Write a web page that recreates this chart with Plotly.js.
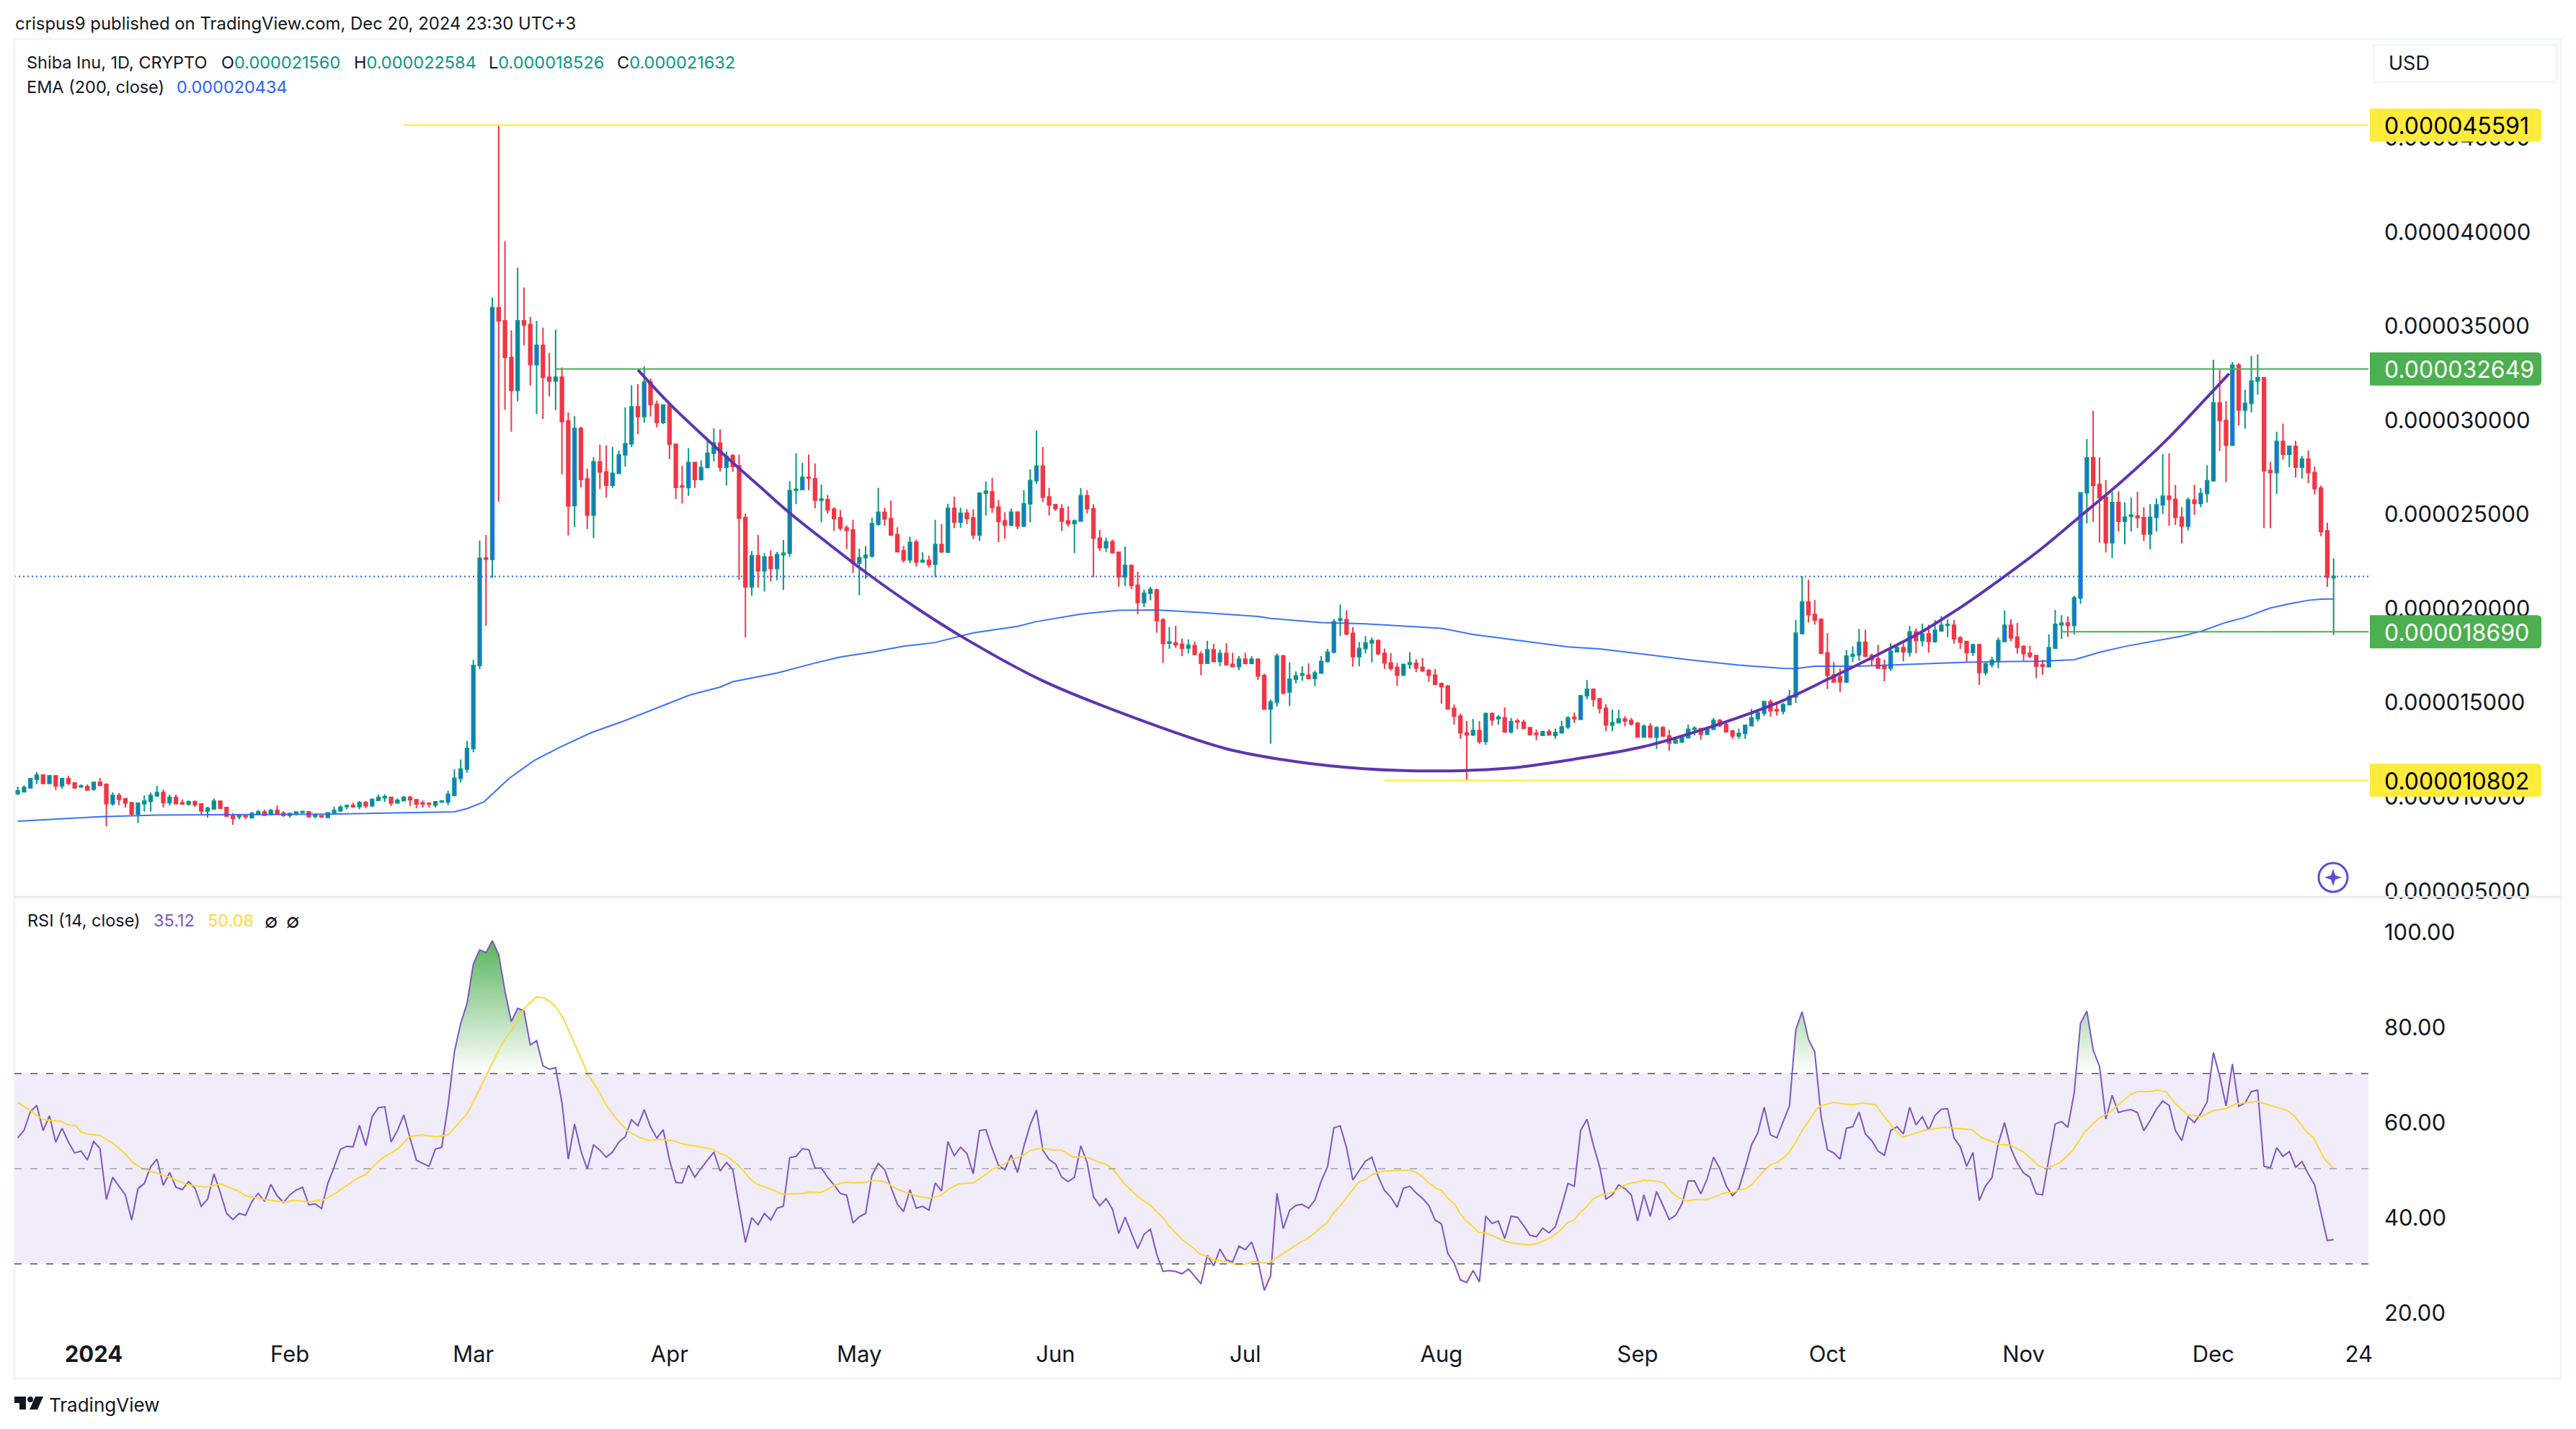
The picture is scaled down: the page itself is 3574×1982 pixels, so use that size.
<!DOCTYPE html>
<html>
<head>
<meta charset="utf-8">
<script src="https://cdn.plot.ly/plotly-3.0.1.min.js"></script>
<style>html,body{margin:0;padding:0;background:#fff}#chart{width:3574px;height:1982px}</style>
</head>
<body>
<div id="chart"></div>
<script>
// Price values are in units of 0.000001 USD, one entry per daily candle starting 2023-12-20.
const firstDay = "2023-12-20";
const opens = [10.09,10.19,10.40,10.86,11.08,10.63,11.04,10.51,10.89,10.66,
10.45,10.47,10.33,10.70,10.58,9.56,10.0,9.82,9.62,9.01,
9.56,9.68,9.98,10.15,9.62,9.89,9.61,9.54,9.66,9.55,
9.18,9.28,9.69,9.36,8.91,8.87,8.92,8.81,9.0,9.13,
9.0,9.2,9.05,8.95,9.04,9.10,9.13,8.89,8.92,8.83,
9.07,9.18,9.41,9.46,9.41,9.62,9.45,9.74,9.87,9.89,
9.60,9.72,9.89,9.77,9.61,9.59,9.49,9.64,9.65,10.0,
10.91,11.4,12.5,16.9,22.6,22.53,35.9,35.2,33.26,31.51,
35.2,35.0,32.87,33.9,32.2,32.0,32.2,29.89,25.39,29.49,
26.81,24.88,27.72,27.18,26.47,27.1,28.08,28.67,30.63,30.12,
31.96,30.77,29.8,30.73,28.64,26.43,26.35,27.68,26.78,27.41,
28.17,28.71,27.43,28.04,27.5,24.75,21.07,22.73,21.92,22.66,
22.05,22.78,22.86,26.2,26.24,26.89,26.82,25.68,25.71,25.2,
24.75,24.2,24.1,22.34,22.62,22.72,24.39,25.04,24.7,23.85,
22.99,22.51,23.45,22.39,22.48,22.28,23.32,22.92,25.25,24.51,
24.99,24.74,23.83,26.05,26.12,25.3,24.58,24.36,25.04,24.31,
25.49,26.72,27.49,25.85,25.44,25.23,24.58,24.43,24.57,25.92,
25.23,23.66,23.16,23.47,22.91,21.61,22.21,21.16,20.24,20.74,
20.91,19.32,18.09,18.1,18.03,17.83,17.95,17.5,17.01,17.73,
17.11,17.54,16.96,16.84,17.23,17.01,17.23,16.36,14.58,14.96,
17.4,15.49,16.17,16.38,16.38,16.21,16.5,17.11,17.61,19.3,
19.33,18.6,17.37,17.8,18.1,18.22,17.54,17.03,16.79,16.38,
16.96,17.01,16.8,16.63,16.38,15.93,15.8,14.62,14.21,13.32,
13.21,13.44,12.86,14.34,14.08,14.11,13.38,13.95,13.88,13.6,
13.29,13.19,13.38,13.19,13.32,13.64,14.15,14.04,15.29,15.64,
15.13,14.63,13.74,13.87,14.06,13.98,13.83,13.1,13.67,13.09,
13.6,13.16,12.78,12.83,13.06,13.51,13.55,13.24,13.51,13.98,
13.76,13.42,13.16,13.29,13.7,14.08,14.36,14.98,14.55,14.47,
14.82,15.23,18.59,20.27,19.61,19.35,17.57,16.39,16.29,16.02,
17.4,17.46,18.13,17.43,17.25,16.89,16.76,17.63,17.85,17.6,
18.68,18.22,18.57,18.17,18.74,19.03,19.03,18.36,18.17,17.59,
18.0,16.53,16.95,17.17,18.17,19.03,18.4,17.9,17.55,17.43,
16.93,16.83,17.82,19.06,19.16,19.02,20.48,26.07,27.93,26.51,
25.84,23.42,25.55,24.56,24.82,24.83,24.75,23.88,24.77,25.43,
25.89,25.72,24.77,24.3,25.69,25.5,26.03,26.71,30.85,29.91,
28.6,32.85,30.46,30.82,32.0,32.18,27.26,27.14,28.8,28.12,
28.54,27.43,27.86,27.14,26.32,24.05,21.56];
const highs = [10.47,10.53,10.93,11.23,11.08,11.04,11.04,10.89,11.04,10.70,
10.58,10.58,10.70,10.93,10.65,10.16,10.12,9.85,9.62,9.62,
10.0,10.15,10.51,10.31,10.05,10.05,9.78,9.74,9.73,9.55,
9.40,9.85,9.73,9.40,9.05,9.01,8.92,9.13,9.23,9.23,
9.28,9.46,9.17,9.04,9.12,9.15,9.17,9.04,8.92,9.08,
9.4,9.47,9.52,9.62,9.70,9.71,9.85,10.05,10.05,9.89,
9.85,9.97,9.97,9.77,9.73,9.61,9.66,9.74,10.25,11.4,
11.9,12.9,17.2,23.53,23.83,36.44,45.591,39.43,34.69,38.02,
36.97,35.41,35.2,34.84,33.5,34.73,32.72,30.34,30.14,29.58,
27.36,27.95,28.62,28.59,28.5,28.31,30.61,31.78,31.84,32.78,
32.14,30.97,30.77,30.73,28.64,27.5,28.44,27.72,27.79,28.95,
29.49,29.45,28.26,28.13,28.1,24.97,22.98,23.83,22.86,23.02,
22.93,23.56,26.69,28.17,27.66,28.1,27.63,26.51,25.95,25.3,
25.16,24.34,24.63,23.1,23.25,24.75,26.33,25.27,25.66,24.24,
23.25,23.73,23.59,22.91,22.74,24.63,24.41,25.49,25.86,25.27,
25.2,25.18,26.1,26.67,26.86,25.69,25.04,25.23,25.09,26.21,
27.32,29.37,28.51,26.33,25.49,25.47,25.35,24.65,26.33,26.21,
25.47,24.1,23.69,23.59,22.96,23.22,22.21,21.88,20.94,21.08,
20.99,19.42,18.94,19.01,18.34,18.29,18.17,17.66,18.21,18.05,
17.75,18.09,17.57,17.4,17.57,17.4,17.23,16.46,15.1,17.54,
17.47,17.06,16.58,16.86,17.01,16.62,17.4,17.78,19.37,20.14,
19.83,18.94,18.14,18.46,18.39,18.29,17.8,17.57,17.03,16.96,
17.61,17.23,17.3,16.72,16.72,16.0,15.87,14.82,14.34,13.95,
14.06,13.95,14.4,14.4,14.27,14.68,14.11,14.08,14.02,13.64,
13.5,13.44,13.51,13.55,13.95,14.21,14.4,15.29,16.12,15.68,
15.17,14.85,14.55,14.55,14.21,14.11,13.89,13.76,13.85,13.67,
13.67,13.47,13.06,13.16,13.76,13.67,13.57,13.64,14.11,14.06,
13.85,13.47,13.55,13.76,14.59,14.59,15.04,15.1,14.85,14.91,
15.61,19.31,21.65,21.46,20.37,19.4,18.61,17.08,16.74,17.72,
17.91,18.84,18.8,17.53,18.0,17.21,18.08,17.97,18.08,19.0,
18.87,19.12,19.06,19.31,19.53,19.34,19.31,18.46,18.19,18.06,
18.06,17.08,17.37,18.38,19.83,19.35,19.16,17.97,17.94,17.46,
17.21,18.55,19.85,19.57,19.51,20.6,26.1,28.92,30.42,27.95,
26.75,26.15,26.15,25.55,25.81,26.12,25.3,25.47,25.76,28.12,
28.17,26.49,25.3,25.81,26.49,26.32,27.52,33.13,32.61,30.94,
33.02,32.95,31.54,33.33,33.42,32.22,27.72,29.31,29.74,28.58,
28.83,28.03,28.32,27.47,26.46,24.48,22.584];
const lows = [10.02,10.16,10.40,10.60,10.63,10.63,10.29,10.35,10.56,10.35,
10.44,10.29,10.25,10.48,8.36,9.45,9.48,9.36,8.94,8.53,
9.14,9.14,9.91,9.36,9.45,9.56,9.51,9.45,9.40,9.0,
8.82,9.28,9.32,8.86,8.44,8.74,8.74,8.78,9.0,8.92,
8.95,9.0,8.86,8.82,8.95,9.04,8.87,8.78,8.82,8.83,
9.07,9.18,9.26,9.36,9.26,9.32,9.38,9.71,9.66,9.43,
9.60,9.72,9.43,9.32,9.36,9.36,9.36,9.61,9.48,9.95,
10.7,11.2,12.3,16.7,19.01,21.54,25.6,30.48,29.31,30.93,
33.9,31.75,30.25,29.99,31.19,30.46,27.05,23.8,24.25,26.36,
24.14,23.67,26.27,25.82,26.33,27.1,27.47,28.49,29.18,29.8,
30.12,29.54,29.72,27.86,25.73,25.5,25.91,26.33,26.72,27.41,
27.74,27.2,26.45,27.2,21.45,18.38,20.6,21.03,20.82,21.36,
21.43,20.91,22.66,25.47,26.2,26.2,25.25,24.5,24.96,24.04,
24.07,23.08,21.81,20.62,21.5,22.62,24.33,24.33,23.8,22.91,
22.36,22.33,22.15,22.36,22.1,21.59,22.87,22.87,24.19,24.21,
24.41,23.61,23.52,24.86,25.01,23.45,23.64,24.29,24.14,24.24,
24.5,26.55,25.57,24.86,25.1,24.04,24.28,22.86,24.53,24.97,
21.59,22.99,22.92,22.84,21.08,21.13,20.96,19.62,20.0,20.36,
18.63,17.03,17.78,17.83,17.4,17.54,17.44,16.38,16.98,17.09,
16.86,16.92,16.8,16.65,16.96,16.96,16.12,14.58,12.74,14.72,
15.35,14.75,15.95,16.09,16.16,15.81,16.46,17.06,17.54,18.46,
18.51,16.84,16.86,17.54,17.06,17.45,16.72,16.63,15.83,16.34,
16.72,16.55,16.55,16.04,15.86,14.87,14.59,13.76,13.0,10.802,
13.15,12.74,12.68,13.7,13.76,13.32,13.29,13.51,13.51,13.19,
12.93,13.16,13.19,13.0,13.32,13.51,13.85,14.04,15.1,14.72,
14.34,13.42,13.42,13.85,13.66,13.7,13.06,13.09,13.06,12.47,
13.11,12.36,12.74,12.83,13.02,13.19,12.96,13.21,13.48,13.64,
13.34,13.0,13.0,13.0,13.7,13.93,14.21,14.18,14.24,14.31,
14.78,14.91,18.55,19.19,19.06,17.5,15.65,16.02,15.49,16.0,
17.08,17.15,17.34,16.89,16.76,16.06,16.61,17.63,17.11,17.37,
17.55,17.91,17.59,18.1,18.74,18.4,18.06,17.78,17.08,17.4,
15.87,16.38,16.79,16.76,18.14,18.19,17.53,17.17,17.27,16.23,
16.4,16.79,17.81,18.32,18.42,18.55,20.17,24.44,24.53,23.42,
22.9,22.6,24.01,23.33,24.01,24.19,23.5,23.07,24.01,24.95,
24.32,24.36,23.38,24.07,24.9,25.3,25.55,26.66,28.29,26.63,
28.6,29.65,29.48,30.34,31.28,24.19,24.19,26.01,27.83,27.43,
26.87,26.83,26.58,25.98,23.76,21.07,18.526];
const closes = [10.24,10.42,10.89,11.08,10.63,11.04,10.51,10.89,10.63,10.40,
10.51,10.29,10.70,10.54,9.56,10.0,9.79,9.60,9.01,9.59,
9.70,10.0,10.15,9.62,9.89,9.56,9.54,9.66,9.50,9.18,
9.32,9.69,9.32,8.90,8.78,8.95,8.87,9.04,9.13,8.95,
9.19,9.0,8.95,9.04,9.12,9.15,8.87,8.95,8.86,9.08,
9.2,9.38,9.46,9.40,9.62,9.45,9.78,9.89,9.93,9.60,
9.74,9.89,9.77,9.55,9.55,9.54,9.66,9.70,10.07,10.91,
11.4,12.5,16.9,22.59,22.55,35.9,35.2,33.26,31.51,35.2,
34.98,32.87,33.9,32.2,32.0,32.2,29.85,25.37,29.49,26.78,
24.88,27.72,27.18,26.47,27.1,28.08,28.67,30.63,30.12,31.96,
30.75,29.8,30.73,28.64,26.36,26.38,27.68,26.78,27.41,28.17,
28.71,27.43,28.0,27.47,24.72,21.07,22.73,21.92,22.66,22.05,
22.79,22.86,26.18,26.26,26.89,26.85,25.68,25.73,25.16,24.7,
24.19,24.07,22.33,22.62,22.75,24.43,25.04,24.68,23.83,22.94,
22.5,23.44,22.39,22.48,22.26,23.32,22.94,25.25,24.51,24.99,
24.7,23.83,26.05,26.16,25.28,24.55,24.36,25.04,24.31,25.49,
26.72,27.49,25.83,25.42,25.23,24.57,24.43,24.58,25.92,25.23,
23.66,23.16,23.47,22.89,21.61,22.21,21.16,20.24,20.74,20.94,
19.28,18.07,18.14,18.0,17.81,17.97,17.49,17.01,17.73,17.11,
17.54,16.94,16.84,17.23,17.01,17.23,16.34,14.58,14.96,17.4,
15.44,16.16,16.34,16.46,16.21,16.5,17.11,17.61,19.23,19.37,
18.57,17.37,17.8,18.1,18.22,17.52,17.03,16.75,16.38,16.96,
17.04,16.77,16.62,16.38,15.9,15.77,14.59,14.21,13.32,13.21,
13.44,12.86,14.34,14.01,14.15,13.38,13.92,13.89,13.57,13.23,
13.23,13.38,13.21,13.34,13.64,14.11,14.08,15.29,15.64,15.1,
14.62,13.74,13.87,14.06,13.95,13.8,13.1,13.67,13.09,13.6,
13.16,12.78,12.93,13.06,13.51,13.57,13.24,13.51,13.98,13.7,
13.38,13.16,13.29,13.72,14.11,14.38,14.98,14.5,14.5,14.82,
15.26,18.61,20.27,19.6,19.31,17.55,16.37,16.03,16.03,17.4,
17.48,18.13,17.4,17.21,16.76,16.74,17.66,17.85,17.63,18.68,
18.22,18.57,18.17,18.77,19.03,19.08,18.32,18.13,17.59,18.0,
16.53,16.98,17.18,18.23,19.03,18.36,17.87,17.53,17.4,16.86,
16.86,17.85,19.08,19.15,19.02,20.49,26.07,27.93,26.46,25.81,
23.42,25.55,24.56,24.78,24.89,24.75,23.88,24.77,25.43,25.89,
25.72,24.77,24.3,25.69,25.5,26.03,26.71,30.85,29.91,28.6,
32.85,30.46,30.82,32.0,32.18,27.24,27.14,28.8,28.12,28.54,
27.43,27.86,27.14,26.29,24.01,21.59,21.632];
const rsi = [56.5,58.1,62,63.3,58,61.1,55.6,58.5,55.6,53.3,
53.7,51.8,55.7,54.2,43.5,48.2,46.3,44.5,39.2,45.8,
46.9,50.4,52,46.5,49.2,46.1,45.6,47.3,45.9,42.1,
43.6,48.9,45,40.6,39.3,40.6,40.2,43.1,44.8,43.1,
46.7,44.3,42.9,44.5,45.5,46.1,42.4,42.6,41.6,46.9,
50.3,54.1,54.7,54.6,59.1,54.8,60.9,62.8,63,55.6,
58,61.3,56.4,51.8,51.1,50.5,54.1,54.5,63.2,74.5,
80.5,84.7,93,96,95.4,97.9,95,87.3,80.9,83.7,
83.2,76,76.9,71.6,70.9,71.2,63.9,52,59.4,53.7,
49.9,55,53.9,52.4,53.5,55.6,56.7,60.3,59,62.4,
58.8,56.4,58.2,51.8,47.1,47,50.7,48.2,50.1,51.8,
53.5,49.5,51.3,49.8,42.3,34.5,39.7,38.2,40.6,39.2,
41.7,42.1,52.3,52.6,54.2,54,50.1,50.1,48.2,46.6,
44.8,44.4,38.6,39.9,40.6,48.6,51.1,49.8,46.1,42.6,
41,45.6,41.7,42.1,41.3,47,45.3,55.7,52.7,54.5,
53.2,48.9,58,58.2,54.2,50.7,49.8,52.9,49.2,54.7,
59.2,62.3,53.9,51.9,51,48.2,47.3,48.2,54.8,51.3,
44.1,42.2,43.7,41.5,36.4,39.8,36.5,33.2,36.2,37.3,
32,28.4,28.6,28.4,27.9,28.9,27.4,25.8,31.8,29.6,
33.1,30.8,30.4,33.7,33,34.6,30.7,24.4,27.5,44.8,
37.4,41.2,42.3,42.5,41.7,43.4,47.4,50.4,58.6,59,
54.4,47.6,49.6,51.6,52.4,48.4,45.4,44,41.9,45.9,
46.3,44.9,43.8,42.3,39.2,38.4,32.2,30.2,26.6,26.1,
28.6,26.2,40,38.5,39,35.3,40,39.8,38,36,
35.7,37.5,36.5,37.8,42.1,46.9,46.3,58,60.4,55,
50.4,43.6,44.5,46.6,45.8,44.5,39,44.5,40,45.2,
42.3,39.3,40.2,42.6,47.4,47.4,44.7,47.9,52.4,50,
46.4,44.3,45.8,50.2,55,57.5,62.9,57.1,56.5,59.8,
63.2,79.2,83,77.2,74.5,60.9,54,53.3,52,58.5,
58.8,61.9,57.3,55.9,53.7,52.8,58,58.8,57.3,62.9,
59.2,60.9,58.1,61.2,62.5,62.6,56.5,54.6,50.5,53.4,
43.3,46.4,48.1,55.3,59.7,54.2,51.2,49.1,48.2,44.7,
44.5,52.1,59.4,59.9,58.7,65.9,80.6,83.1,74.9,71.5,
60.4,65.4,61.8,62.2,62.4,61.8,58,60.1,62.5,64.2,
63.3,58,55.9,60.9,59.7,61.6,64,74.4,69.4,63.2,
72,63.1,63.8,66.2,66.5,50.5,50.2,54.4,52.6,53.6,
50.3,51.5,48.9,46.6,40.8,34.9,35.12];
// Readings taken at the bar offsets given in the *Bars arrays.
const rsiMaBars = [0,2,4,6.7,8,9.2,10,11,12.9,15,17,18.1,19.8,22.6,24.5,26.7,29.6,32.1,35,36,39,42.3,43.7,45.9,48.4,50.3,53.5,55,57.2,58.2,60.1,61.9,63.7,66.2,68,71,72.8,75,76.8,78,80,82,83.3,84.7,86.2,87.3,88.7,90.2,91.7,93.1,94.6,96.4,98.2,99.8,101.4,103.8,105,107.6,109.8,111,112,113.9,114.9,115.8,116.9,119,120.9,122.1,124.2,125,126.9,128,129,130,131,132,133.9,135,136.2,137.3,138.8,140,141.9,144.1,145.8,147,148.7,151,152.8,154,155.1,156.8,158.9,160,161.2,162,163.8,165,166.8,168.8,171,172,173,174.9,175.9,177.2,179,180.9,182,184,185.9,186.9,188,189.1,190.8,192.7,194,195,195.9,197.3,198,199,199.9,201,203,203.9,205,206,206.9,207.9,209,211,212,213,214,214.9,215.9,218,218.9,220,221,222,223,224,225,226,227.1,228,228.9,229.9,230.9,232,233.7,235,236,238.9,240.2,242.1,243.6,245,246,246.6,247.8,248.9,250,252,253.9,254.9,255.9,256.9,258.8,260,261.8,263,264,265,266.9,268.6,270,271.1,272,273.1,274,276,277,278,279,279.9,281,282,283,284.2,285,287,289,290,291.6,293.6,295,296.7,297.9,301.4,304.5,308.8,310.4,313.2,315,317,319.3,320.5,322.8,324.7,326.7,328.7,330.6,333.8,335,336.9,338,339.5,340.9,342.8,345.1,347,349,350.5,354,356.8,358.7,359.9,361.8,362.8,364.5,366];
const rsiMaValues = [63.9,62.2,60.3,60,59.2,59,57.7,57.3,57,55.4,53.1,51.4,49.9,48.8,47.9,46.7,46.1,46.8,45.2,44.3,43.5,43,43.4,43,43.5,44.9,47.8,48.8,51.8,52.7,54.2,56.7,57.1,56.7,57.1,61.5,66.2,72.2,76.8,79,83.6,86.1,85.8,84.5,81.7,78.3,74.1,69.6,66.6,63.2,60.5,57.9,56.6,55.9,56.2,55.8,55.2,54.6,54.1,53.2,52.7,50.7,49.1,47.8,46.7,45.7,44.6,44.7,44.8,45.1,45,45.6,46.5,46.9,47.2,47.1,47.1,47.5,47.4,47.1,45.8,45.2,44.3,43.8,44.3,45.6,46.8,47,48.6,49.9,50.4,51.7,52.8,53.8,54.2,54.3,53.9,53.9,52.4,52.5,51.3,50.9,50,46.8,45.6,43.9,42.3,39.8,37.9,35.1,33.2,32,31.6,30.8,30.5,29.8,29.9,30.4,30.4,30.1,30.4,31.3,32,33.1,34.8,35.4,36.5,37.7,38.6,40.6,42.2,45.6,47.2,47.7,48.7,49.2,49.5,49.6,49.7,49.7,49.2,48.3,47,46,45.4,43.8,42.5,40.5,39,37.9,36.6,36.5,35.5,34.8,34.4,34,34.3,35.4,36.8,38.7,39.2,40.3,41.8,43.6,44.3,45,46.5,47,47.2,47.6,47.4,47.1,44.5,43.6,43.2,43.5,43.5,44.3,45,45,45.5,45.8,46.6,49.6,50.8,51.3,52.2,53.4,55.6,58,59.9,62.4,63.3,63.9,63.6,63.4,63.8,63.4,60.9,58.1,56.6,58.1,58.7,58.2,56.5,55.1,54.9,53.5,50.7,50,51.3,53.7,57.8,60.4,61.8,65.5,66.2,66.2,66.5,66.2,63.8,61.4,60.9,62.2,62.6,63.6,64.1,63,62.2,60.9,57.6,56.6,52.1,50.08];
const emaBars = [0,13,22,35,49,69,71,73.7,77.6,81.6,85.5,90.6,95.8,101,106.2,111,113,120,126,130,135,140,145,151,158,161,168,174,180,187,196,198,206,213,225,230,239,245,250,257,264,272,279,281,284,291,301,308,315,320,325,329,333,337,342,345,349,352,354,356,359,362,364,366];
const emaValues = [8.63,8.87,8.96,8.97,9.0,9.13,9.3,9.66,10.89,11.85,12.53,13.33,13.95,14.64,15.33,15.75,16.04,16.5,17.03,17.35,17.61,17.92,18.12,18.63,18.98,19.23,19.63,19.83,19.85,19.71,19.5,19.4,19.18,19.11,18.87,18.55,18.14,17.89,17.78,17.5,17.21,16.92,16.75,16.74,16.86,16.86,16.97,17.07,17.11,17.13,17.21,17.6,17.91,18.15,18.46,18.71,19.19,19.45,19.69,19.95,20.17,20.36,20.42,20.434];
const cupBars = [98,103,108.8,113.4,117.2,122,128,134.2,141.6,149.6,161.9,176.5,191,201.9,212.8,224.5,235.4,246.3,257.2,268.1,279,286.2,293.5,300.7,304.7,308,314,320,325.7,332.6,339.6,346.6,349.5];
const cupValues = [32.6,30.8,28.95,27.55,26.42,25.0,23.4,21.8,20.05,18.35,16.1,14.12,12.48,11.8,11.42,11.3,11.44,11.94,12.61,13.7,15.04,16.19,17.4,18.65,19.48,20.2,21.63,23.15,24.75,26.7,28.88,31.36,32.4];
const levelPrices = [45.591,32.649,18.690,10.802];
const levelStartBars = [61,85,323,216];
const levelLabels = ["0.000045591","0.000032649","0.000018690","0.000010802"];
const levelColors = ["#FFEB3B","#4CAF50","#4CAF50","#FFEB3B"];
const levelTextColors = ["#000000","#FFFFFF","#FFFFFF","#000000"];
const lastPrice = 21.632;
const priceTicks = [5,10,15,20,25,30,35,40,45];
const priceTickText = ["0.000005000","0.000010000","0.000015000","0.000020000","0.000025000","0.000030000","0.000035000","0.000040000","0.000045000"];
const rsiTicks = [20,40,60,80,100];
const rsiTickText = ["20.00","40.00","60.00","80.00","100.00"];
const timeTicks = ["2024-01-01","2024-02-01","2024-03-01","2024-04-01","2024-05-01","2024-06-01","2024-07-01","2024-08-01","2024-09-01","2024-10-01","2024-11-01","2024-12-01","2024-12-24"];
const timeTickText = ["<b>2024</b>","Feb","Mar","Apr","May","Jun","Jul","Aug","Sep","Oct","Nov","Dec","24"];

const W = 3574, H = 1982, U = 1e-6;
const FONT = "Inter, 'Noto Sans', sans-serif";
const INK = "#131722", UP = "#089981", DOWN = "#F23645", BLUE = "#2962FF", PURPLE = "#7E57C2", GOLD = "#FDD835";
const dayMs = 86400000, t0 = Date.parse(firstDay + "T00:00:00Z");
const dateAt = k => new Date(t0 + k * dayMs).toISOString();
const px = x => x / W, py = y => 1 - y / H;
const micro = a => a.map(v => v * U);
const bars = opens.map((_, k) => dateAt(k));
const lastX = "2024-12-25T12:00:00Z";

// Clip the RSI line to the zone beyond a threshold so the area can be shaded.
function zone(th, sign) {
  const xs = [], ys = [];
  rsi.forEach((r, k) => {
    xs.push(k); ys.push(sign * (r - th) > 0 ? r : th);
    const n = rsi[k + 1];
    if (n !== undefined && (r - th) * (n - th) < 0) { xs.push(k + (th - r) / (n - r)); ys.push(th); }
  });
  return {x: xs.map(dateAt), y: ys};
}
function zoneTraces(th, sign, scale) {
  const z = zone(th, sign);
  return [
    {type:"scatter", mode:"lines", x:[z.x[0], z.x[z.x.length-1]], y:[th, th], xaxis:"x", yaxis:"y2", line:{width:0}, hoverinfo:"skip"},
    {type:"scatter", mode:"lines", x:z.x, y:z.y, xaxis:"x", yaxis:"y2", line:{width:0}, fill:"tonexty", hoverinfo:"skip",
     fillgradient:{type:"vertical", start: sign > 0 ? 70 : 0, stop: sign > 0 ? 100 : 30, colorscale: scale}}
  ];
}

const traces = [
  {type:"candlestick", x:bars, open:micro(opens), high:micro(highs), low:micro(lows), close:micro(closes), xaxis:"x", yaxis:"y",
   increasing:{line:{color:UP, width:2}, fillcolor:BLUE}, decreasing:{line:{color:DOWN, width:2}, fillcolor:DOWN}, hoverinfo:"skip", whiskerwidth:0},
  {type:"scatter", mode:"lines", x:emaBars.map(dateAt), y:micro(emaValues), xaxis:"x", yaxis:"y", line:{color:BLUE, width:2}, opacity:0.9, hoverinfo:"skip"},
  {type:"scatter", mode:"lines", x:cupBars.map(dateAt), y:micro(cupValues), xaxis:"x", yaxis:"y", line:{color:"#5E35B1", width:4, shape:"spline", smoothing:1}, hoverinfo:"skip"}
];
levelPrices.forEach((p, i) => traces.push({type:"scatter", mode:"lines", x:[dateAt(levelStartBars[i]), lastX], y:[p*U, p*U], xaxis:"x", yaxis:"y", line:{color:levelColors[i], width:2}, hoverinfo:"skip"}));
traces.push(...zoneTraces(70, 1, [[0,"rgba(76,175,80,0)"],[1,"rgba(76,175,80,1)"]]));
traces.push(...zoneTraces(30, -1, [[0,"rgba(242,54,69,1)"],[1,"rgba(242,54,69,0)"]]));
traces.push({type:"scatter", mode:"lines", x:bars, y:rsi, xaxis:"x", yaxis:"y2", line:{color:PURPLE, width:2}, hoverinfo:"skip"});
traces.push({type:"scatter", mode:"lines", x:rsiMaBars.map(dateAt), y:rsiMaValues, xaxis:"x", yaxis:"y2", line:{color:GOLD, width:2}, hoverinfo:"skip"});

const hLine = (yv, color, width, dash, layer) => ({type:"line", xref:"x domain", yref:"y2", x0:0, x1:1, y0:yv, y1:yv, layer:layer||"above", line:{color, width, dash}});
const frame = "#F0F3FA";
const poly = pts => "M" + pts.map(p => px(p[0]) + "," + py(p[1])).join(" L") + " Z";
const shapes = [
  {type:"rect", xref:"x domain", yref:"y2", x0:0, x1:1, y0:30, y1:70, layer:"below", line:{width:0}, fillcolor:"#F0ECF9"},
  hLine(70, "#787B86", 2, "10px,12px"),
  hLine(50, "rgba(120,123,134,0.5)", 2, "10px,12px"),
  hLine(30, "#787B86", 2, "10px,12px"),
  {type:"line", xref:"x domain", yref:"y", x0:0, x1:1, y0:lastPrice*U, y1:lastPrice*U, layer:"below", line:{color:BLUE, width:2, dash:"2px,4px"}},
  {type:"rect", xref:"paper", yref:"paper", x0:px(20), x1:px(3553), y0:py(1912), y1:py(54), layer:"below", line:{color:frame, width:2.5}, fillcolor:"rgba(0,0,0,0)"},
  {type:"line", xref:"paper", yref:"paper", x0:px(20), x1:px(3553), y0:py(1244), y1:py(1244), line:{color:"#E4E6EE", width:2.5}},
  {type:"rect", xref:"paper", yref:"paper", x0:px(3294), x1:px(3547), y0:py(114), y1:py(62), line:{color:frame, width:2}, fillcolor:"rgba(255,255,255,0)"},
  // TradingView mark
  {type:"path", xref:"paper", yref:"paper", path:poly([[20,1937],[36,1937],[36,1955],[27,1955],[27,1946],[20,1946]]), fillcolor:INK, line:{width:0}},
  {type:"circle", xref:"paper", yref:"paper", x0:px(38), x1:px(46), y0:py(1945), y1:py(1937), fillcolor:INK, line:{width:0}},
  {type:"path", xref:"paper", yref:"paper", path:poly([[49,1937],[60,1937],[52,1955],[41,1955]]), fillcolor:INK, line:{width:0}},
  // Circular product badge
  {type:"circle", xref:"paper", yref:"paper", x0:px(3217), x1:px(3257), y0:py(1237), y1:py(1197), fillcolor:"#FFFFFF", line:{color:"#5D4FD6", width:3}},
  {type:"path", xref:"paper", yref:"paper", path:poly([[3237,1205],[3240,1214],[3249,1217],[3240,1220],[3237,1229],[3234,1220],[3225,1217],[3234,1214]]), fillcolor:"#5D4FD6", line:{width:0}}
];
levelPrices.forEach((p, i) => shapes.push({type:"path", xref:"paper", yref:"y", xsizemode:"pixel", ysizemode:"pixel", xanchor:px(3286), yanchor:p*U,
  path:"M2,-23 L234,-23 Q240,-23 240,-17 L240,17 Q240,23 234,23 L2,23 Z", fillcolor:levelColors[i], line:{width:0}}));

const label = (text, x, y, size, color, extra) => Object.assign({xref:"paper", yref:"paper", x:px(x), y:py(y), text, showarrow:false, xanchor:"left", yanchor:"middle", align:"left", font:{family:FONT, size, color}}, extra||{});
const sp = (c, t) => `<span style="color:${c}">${t}</span>`;
const LEG = 23.5;
const annotations = [
  label("crispus9 published on TradingView.com, Dec 20, 2024 23:30 UTC+3", 19, 32, 23.9, INK),
  label("Shiba Inu, 1D, CRYPTO", 35, 86, LEG, INK),
  label("O" + sp(UP, "0.000021560"), 305, 86, LEG, INK),
  label("H" + sp(UP, "0.000022584"), 489, 86, LEG, INK),
  label("L" + sp(UP, "0.000018526"), 676, 86, LEG, INK),
  label("C" + sp(UP, "0.000021632"), 854, 86, LEG, INK),
  label("EMA (200, close)", 35, 120, LEG, INK),
  label(sp(BLUE, "0.000020434"), 243, 120, LEG, INK),
  label("RSI (14, close)", 36, 1276, LEG, INK),
  label(sp(PURPLE, "35.12"), 211, 1276, LEG, INK),
  label(sp(GOLD, "50.08"), 286, 1276, LEG, INK),
  label("∅", 365, 1277, 27, INK),
  label("∅", 395, 1277, 27, INK),
  label("USD", 3312, 88, 27, INK),
  label("TradingView", 66, 1948, 26, INK)
];
levelPrices.forEach((p, i) => annotations.push({xref:"paper", yref:"y", x:px(3305.5), y:p*U, yshift:-1, text:levelLabels[i], showarrow:false, xanchor:"left", yanchor:"middle", font:{family:FONT, size:32, color:levelTextColors[i]}}));

const axisFont = {family:FONT, size:31, color:INK};
// Small offsets keep the font's optical centre on the tick level.
const priceLabelNudge = 0.077, rsiLabelNudge = 0.3;
const layout = {
  width:W, height:H, autosize:false, margin:{l:0, r:0, t:0, b:0, pad:0}, paper_bgcolor:"#fff", plot_bgcolor:"#fff", showlegend:false,
  xaxis:{type:"date", domain:[px(20), px(3286)], range:["2023-12-19T11:17:00Z", lastX], anchor:"y2", tickmode:"array", tickvals:timeTicks, ticktext:timeTickText,
    showgrid:false, zeroline:false, showline:false, ticks:"", rangeslider:{visible:false}, tickfont:axisFont, ticklabelstandoff:9},
  yaxis:{domain:[py(1244), py(54)], range:[4.61*U, 50.17*U], side:"right", anchor:"x", tickmode:"array", tickvals:priceTicks.map(v => (v - priceLabelNudge) * U), ticktext:priceTickText,
    showgrid:false, zeroline:false, showline:false, ticks:"", tickfont:axisFont, ticklabelstandoff:21},
  yaxis2:{domain:[py(1848), py(1246)], range:[15.6, 106.8], side:"right", anchor:"x", tickmode:"array", tickvals:rsiTicks.map(v => v - rsiLabelNudge), ticktext:rsiTickText,
    showgrid:false, zeroline:false, showline:false, ticks:"", tickfont:axisFont, ticklabelstandoff:21},
  shapes, annotations
};
Plotly.newPlot("chart", traces, layout, {staticPlot:true, displayModeBar:false});
</script>
</body>
</html>
